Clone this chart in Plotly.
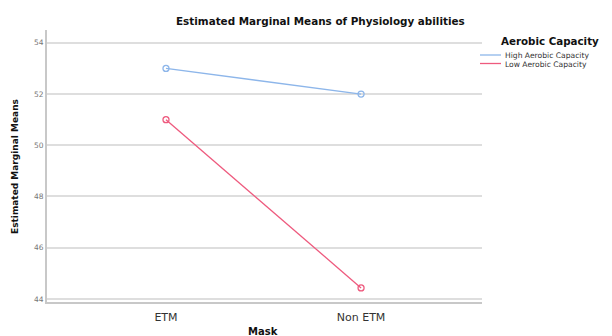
import plotly.graph_objects as go

categories = ["ETM", "Non ETM"]
series_names = ["High Aerobic Capacity", "Low Aerobic Capacity"]
high_vals = [53.0, 52.0]
low_vals = [51.0, 44.43]
y_ticks = [44, 46, 48, 50, 52, 54]

colors = ["#8db6ea", "#ee5a7e"]
font_family = "DejaVu Sans"

fig = go.Figure()
for name, vals, col in zip(series_names, [high_vals, low_vals], colors):
    fig.add_trace(go.Scatter(
        x=categories, y=vals, mode="lines+markers", name=name,
        line=dict(color=col, width=1.3),
        marker=dict(symbol="circle-open", size=6, color=col, line=dict(width=1.3)),
        showlegend=False,
    ))

# page body has an 8px margin; work in reference pixels and shift
OFF = 8
W, H = 604, 328
plot_l, plot_r, plot_t, plot_b = 47, 482, 30, 302
L = plot_l - OFF
R = W - (plot_r - OFF)
T = plot_t - OFF
B = H - (plot_b - OFF)
pw, ph = W - L - R, H - T - B

def px_x(x):
    return (x - OFF - L) / pw

def px_y(y):
    return (H - B - (y - OFF)) / ph

fig.update_layout(
    width=W, height=H,
    margin=dict(l=L, r=R, t=T, b=B, pad=0),
    paper_bgcolor="white", plot_bgcolor="white",
    font=dict(family=font_family, color="#333333"),
    xaxis=dict(type="category", range=[-0.61, 1.62], showgrid=False,
               showline=True, linecolor="#c8c8c8", linewidth=2, ticks="",
               ticklabelstandoff=4,
               tickfont=dict(size=11, color="#333333"), zeroline=False),
    yaxis=dict(range=[43.88, 54.5], tickvals=y_ticks, showgrid=True,
               gridcolor="#dedede", gridwidth=1.5, showline=True,
               linecolor="#c8c8c8", linewidth=2, ticks="",
               tickfont=dict(size=7.5, color="#777777"), zeroline=False),
)

# title
fig.add_annotation(text="<b>Estimated Marginal Means of Physiology abilities</b>",
                   x=px_x(320), y=px_y(21), xref="paper", yref="paper",
                   xanchor="center", yanchor="middle", showarrow=False,
                   font=dict(size=10.4, color="#111111", family=font_family))
# axis titles
fig.add_annotation(text="<b>Mask</b>", x=px_x(263), y=px_y(331), xref="paper", yref="paper",
                   xanchor="center", yanchor="middle", showarrow=False,
                   font=dict(size=10, color="#111111", family=font_family))
fig.add_annotation(text="<b>Estimated Marginal Means</b>", x=px_x(15), y=px_y(167),
                   xref="paper", yref="paper", textangle=-90,
                   xanchor="center", yanchor="middle", showarrow=False,
                   font=dict(size=9, color="#111111", family=font_family))

# manual legend
fig.add_annotation(text="<b>Aerobic Capacity</b>", x=px_x(499), y=px_y(41), xref="paper", yref="paper",
                   xanchor="left", yanchor="middle", showarrow=False,
                   font=dict(size=10.3, color="#111111", family=font_family))
for i, (name, col) in enumerate(zip(series_names, colors)):
    yy = 55 + 8.5 * i
    fig.add_shape(type="line", xref="paper", yref="paper",
                  x0=px_x(480), x1=px_x(501), y0=px_y(yy), y1=px_y(yy),
                  line=dict(color=col, width=1.3))
    fig.add_annotation(text=name, x=px_x(503), y=px_y(yy + 0.5), xref="paper", yref="paper",
                       xanchor="left", yanchor="middle", showarrow=False,
                       font=dict(size=7.6, color="#333333", family=font_family))

fig.write_html("out.html")
